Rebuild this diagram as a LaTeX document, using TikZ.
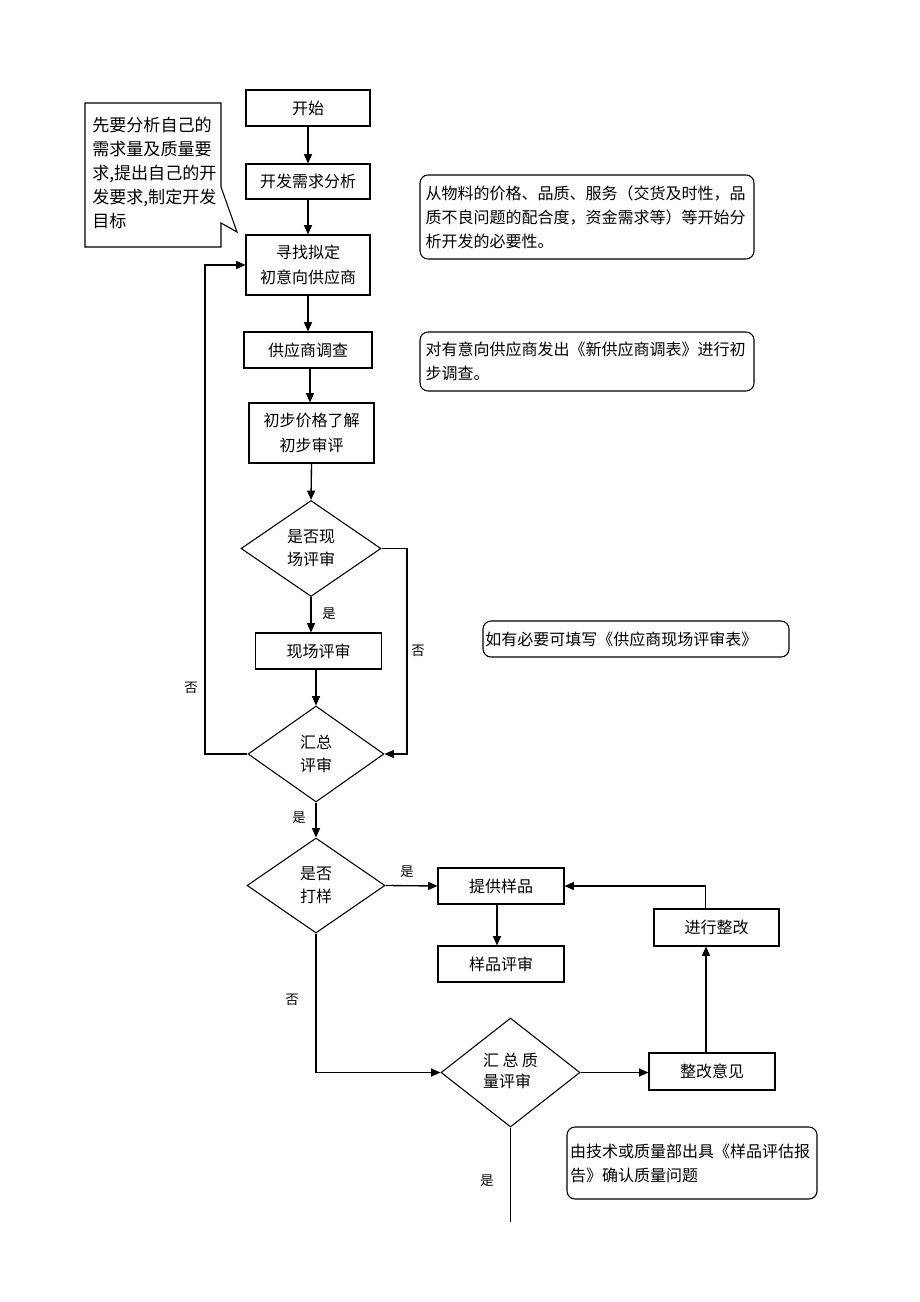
\documentclass[tikz,border=0pt]{standalone}
\usepackage{fontspec}
\setmainfont{Noto Sans CJK SC}
\usetikzlibrary{arrows.meta,shapes.geometric}
\begin{document}
\begin{tikzpicture}[x=0.75pt,y=-0.75pt,
  box/.style={draw,line width=0.8pt,inner sep=0pt,align=center,font=\fontsize{12}{19}\selectfont},
  dia/.style={draw,diamond,line width=0.8pt,inner sep=0pt,align=center,font=\fontsize{12}{17}\selectfont},
  note/.style={draw,rounded corners=6pt,line width=0.8pt,align=left,font=\fontsize{12}{18}\selectfont},
  lbl/.style={font=\fontsize{10}{12}\selectfont,inner sep=0pt},
  arr/.style={line width=1pt,-{Triangle[length=7pt,width=6pt]}},
  ln/.style={line width=1pt}]
\path[use as bounding box] (0,0) rectangle (920,1302);
\fill[white] (0,0) rectangle (920,1302);

% callout
\draw[line width=0.8pt] (85,103) -- (221,103) -- (221,187) -- (237,232) -- (221,223) -- (221,247) -- (85,247) -- cycle;
\node[anchor=north west,align=left,inner sep=0pt,font=\fontsize{12.8}{18}\selectfont] (call) at (92,117)
  {先要分析自己的\\需求量及质量要\\求,提出自己的开\\发要求,制定开发\\目标};

% main boxes
\node[box,minimum width=93pt,minimum height=27pt] (start) at (308,108) {开始};
\node[box,minimum width=93pt,minimum height=26.25pt] (need) at (308,181.5) {开发需求分析};
\node[box,minimum width=93pt,minimum height=45pt] (find) at (308,265) {寻找拟定\\初意向供应商};
\node[box,minimum width=96pt,minimum height=27pt] (survey) at (308,350) {供应商调查};
\node[box,minimum width=93.75pt,minimum height=45pt] (price) at (311.5,433) {初步价格了解\\初步审评};
\node[dia,minimum width=105pt,minimum height=72pt] (d1) at (311,548.5) {是否现\\场评审};
\node[box,minimum width=94.5pt,minimum height=27pt] (onsite) at (318.5,651) {现场评审};
\node[dia,minimum width=102pt,minimum height=72pt] (d2) at (316,754) {汇总\\评审};
\node[dia,minimum width=103.5pt,minimum height=71.25pt] (d3) at (316,885.5) {是否\\打样};
\node[box,minimum width=94.5pt,minimum height=27pt] (sample) at (501,886) {提供样品};
\node[box,minimum width=94.5pt,minimum height=27pt] (samprev) at (501,964) {样品评审};
\node[dia,minimum width=104.25pt,minimum height=81.75pt] (d4) at (510.5,1072.5) {\begin{tabular}{@{}l@{}}汇\hspace{2.5pt}总\hspace{2.5pt}质\\[-1pt]量评审\end{tabular}};
\node[box,minimum width=94.5pt,minimum height=27.75pt] (rectify) at (712,1071.5) {整改意见};
\node[box,minimum width=93.75pt,minimum height=27.75pt] (doit) at (716.5,927.5) {进行整改};

% notes
\node[note,minimum width=250.5pt,minimum height=63pt,text width=242pt,inner xsep=4.25pt] (n1) at (587,217)
  {从物料的价格、品质、服务（交货及时性，品\\质不良问题的配合度，资金需求等）等开始分\\析开发的必要性。};
\node[note,minimum width=250.5pt,minimum height=44.25pt,text width=242pt,inner xsep=4.25pt] (n2) at (587,361.5)
  {对有意向供应商发出《新供应商调表》进行初\\步调查。};
\node[note,minimum width=229.5pt,minimum height=27pt,text width=226pt,inner xsep=1.75pt] (n4) at (636,639)
  {如有必要可填写《供应商现场评审表》};
\node[note,minimum width=187.5pt,minimum height=54pt,text width=183pt,inner xsep=2.25pt] (n3) at (692,1163)
  {由技术或质量部出具《样品评估报\\告》确认质量问题};

% coordinates
\coordinate (r1) at (407,548.5);
\coordinate (l1) at (205,754);
\coordinate (e1) at (510.5,1222);

% connectors
\draw[arr] (start) -- (need);
\draw[arr] (need) -- (find);
\draw[arr] (find) -- (survey);
\draw[arr] (survey.south -| 310,0) -- (price.north -| 310,0);
\draw[arr] (price.south) -- (d1.north);
\draw[arr] (d1.south) -- (d1.south |- onsite.north);
\draw[arr] (onsite.south -| d2.north) -- (d2.north);
\draw[arr] (d2.south) -- (d3.north);
\draw[arr] (d3.east) -- (sample.west);
\draw[arr] ([xshift=-3pt]sample.south) -- ([xshift=-3pt]samprev.north);
\draw[arr] (d3.south) |- (d4.west);
\draw[arr] (d4.east) -- (d4.east -| rectify.west);
\draw[arr] ([xshift=-4.5pt]rectify.north) -- ([xshift=-4.5pt]rectify.north |- doit.south);
\draw[arr] ([xshift=-8.5pt]doit.north) |- (sample.east);
\draw[ln] (d4.south) -- (e1);
\draw[arr] (d1.east) -- (r1) |- (d2.east);
\draw[arr] (d2.west) -- (l1) |- (find.west);

% labels
\node[lbl] (y1) at (329,614) {是};
\node[lbl] (n1l) at (418,651) {否};
\node[lbl] (n2l) at (191,688) {否};
\node[lbl] (y2) at (299,818) {是};
\node[lbl] (y3) at (407,872) {是};
\node[lbl] (n3l) at (292,1000) {否};
\node[lbl] (y4) at (487,1181) {是};
\end{tikzpicture}
\end{document}
